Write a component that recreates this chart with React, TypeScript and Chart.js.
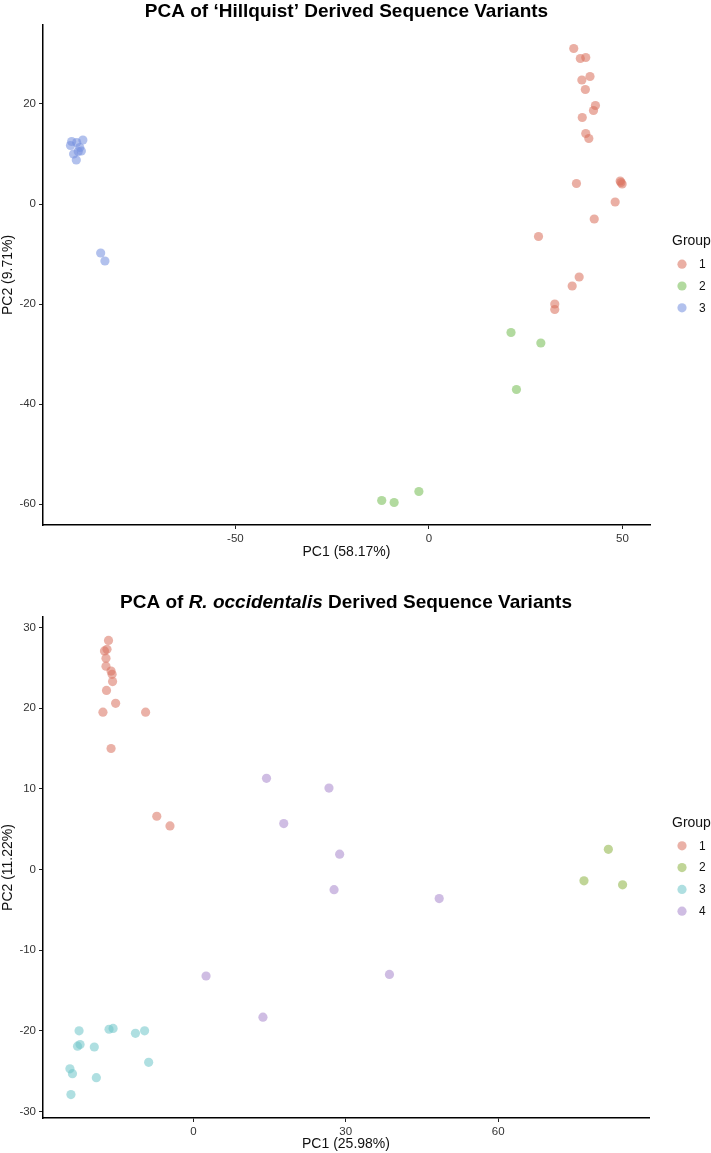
import React, { useEffect, useRef } from 'react';
import { Chart, registerables } from 'chart.js';

Chart.register(...registerables);

const FONT = "'Liberation Sans', Arial, Helvetica, sans-serif";

// ---------- Chart 1: 'Hillquist' ----------
const HQ_GROUPS = ['1', '2', '3'];
const HQ_G1_X = [37.4, 39.1, 40.5, 39.5, 41.6, 40.4, 43.0, 42.5, 39.6, 40.5, 41.3, 38.1, 49.4, 49.9, 49.6, 48.1, 42.7, 28.3, 38.8, 37.0, 32.5, 32.5];
const HQ_G1_Y = [31.1, 29.1, 29.3, 24.8, 25.5, 22.9, 19.7, 18.7, 17.3, 14.1, 13.1, 4.1, 4.6, 4.0, 4.3, 0.4, -3.0, -6.5, -14.6, -16.4, -20.0, -21.1];
const HQ_G2_X = [21.2, 28.9, 22.6, -12.2, -9.0, -2.6];
const HQ_G2_Y = [-25.7, -27.8, -37.1, -59.3, -59.7, -57.5];
const HQ_G3_X = [-92.3, -92.6, -91.0, -89.4, -90.2, -89.8, -90.6, -91.8, -91.1, -84.8, -83.7];
const HQ_G3_Y = [12.5, 11.7, 12.3, 12.8, 11.3, 10.6, 10.5, 10.0, 8.8, -9.8, -11.4];
const HQ_X_TICKS = [-50, 0, 50];
const HQ_Y_TICKS = [-60, -40, -20, 0, 20];
const HQ_COLORS = ['rgba(218,113,93,0.56)', 'rgba(117,189,83,0.56)', 'rgba(118,144,223,0.56)'];

// ---------- Chart 2: R. occidentalis ----------
const RO_GROUPS = ['1', '2', '3', '4'];
const RO_G1_X = [-16.7, -17.0, -17.5, -17.2, -17.2, -16.2, -16.0, -15.9, -17.1, -15.3, -17.8, -9.4, -16.2, -7.2, -4.6];
const RO_G1_Y = [28.4, 27.3, 27.1, 26.2, 25.2, 24.6, 24.2, 23.3, 22.2, 20.6, 19.5, 19.5, 15.0, 6.6, 5.4];
const RO_G2_X = [81.7, 76.9, 84.5];
const RO_G2_Y = [2.5, -1.4, -1.9];
const RO_G3_X = [-22.5, -22.8, -22.3, -19.5, -16.6, -15.8, -11.4, -9.6, -8.8, -19.1, -24.3, -23.8, -24.1];
const RO_G3_Y = [-20.0, -21.9, -21.7, -22.0, -19.8, -19.7, -20.3, -20.0, -23.9, -25.8, -24.7, -25.3, -27.9];
const RO_G4_X = [14.4, 26.7, 17.8, 28.8, 27.7, 48.4, 38.6, 2.5, 13.7];
const RO_G4_Y = [11.3, 10.1, 5.7, 1.9, -2.5, -3.6, -13.0, -13.2, -18.3];
const RO_X_TICKS = [0, 30, 60];
const RO_Y_TICKS = [-30, -20, -10, 0, 10, 20, 30];
const RO_COLORS = ['rgba(218,116,98,0.56)', 'rgba(146,183,75,0.58)', 'rgba(113,198,201,0.56)', 'rgba(172,141,207,0.58)'];

type TitlePart = { text: string; italic?: boolean };

interface Spec {
  groups: string[];
  xs: number[][];
  ys: number[][];
  colors: string[];
  xMin: number; xMax: number; yMin: number; yMax: number;
  xTicks: number[]; yTicks: number[];
  xTitle: string; yTitle: string;
  titleParts: TitlePart[];
  titleBaseline: number;
  top: number; right: number; xAxisHeight: number; xTitlePad: number;
  width: number; height: number;
}

function overlayPlugin(spec: Spec) {
  return {
    id: 'overlay',
    afterDraw(chart: any) {
      const ctx = chart.ctx as CanvasRenderingContext2D;
      const area = chart.chartArea;
      ctx.save();
      // Title
      const fontFor = (p: TitlePart) => `${p.italic ? 'italic ' : ''}bold 19px ${FONT}`;
      let total = 0;
      const widths = spec.titleParts.map((p) => {
        ctx.font = fontFor(p);
        const w = ctx.measureText(p.text).width;
        total += w;
        return w;
      });
      let x = (area.left + area.right) / 2 - total / 2;
      ctx.fillStyle = '#000';
      ctx.textBaseline = 'alphabetic';
      ctx.textAlign = 'left';
      spec.titleParts.forEach((p, i) => {
        ctx.font = fontFor(p);
        ctx.fillText(p.text, x, spec.titleBaseline);
        x += widths[i];
      });
      // Legend
      const n = spec.groups.length;
      const center = (area.top + area.bottom) / 2;
      const step = 21.8;
      const firstY = center - ((n - 1) * step) / 2 + 11;
      ctx.font = `14px ${FONT}`;
      ctx.fillStyle = '#111';
      ctx.fillText('Group', 672, firstY - 19);
      chart.data.datasets.forEach((ds: any, i: number) => {
        const y = firstY + i * step;
        ctx.beginPath();
        ctx.arc(682, y, 4.6, 0, Math.PI * 2);
        ctx.fillStyle = ds.backgroundColor;
        ctx.fill();
        ctx.fillStyle = '#111';
        ctx.font = `12px ${FONT}`;
        ctx.textBaseline = 'middle';
        ctx.fillText(ds.label, 699, y + 0.5);
        ctx.textBaseline = 'alphabetic';
      });
      ctx.restore();
    },
  };
}

function buildConfig(spec: Spec): any {
  const tickFont = { family: FONT, size: 11.5 };
  const titleFont = { family: FONT, size: 14 };
  return {
    type: 'scatter',
    data: {
      datasets: spec.groups.map((g, i) => ({
        label: g,
        data: spec.xs[i].map((xv, j) => ({ x: xv, y: spec.ys[i][j] })),
        backgroundColor: spec.colors[i],
        borderWidth: 0,
        pointRadius: 4.6,
        pointHoverRadius: 4.6,
        pointBorderWidth: 0,
      })),
    },
    options: {
      responsive: false,
      animation: false,
      events: [],
      layout: { padding: { top: spec.top, right: spec.width - spec.right, left: 0, bottom: 0 } },
      plugins: { legend: { display: false }, tooltip: { enabled: false }, title: { display: false } },
      scales: {
        x: {
          type: 'linear',
          position: 'bottom',
          min: spec.xMin,
          max: spec.xMax,
          afterBuildTicks: (s: any) => { s.ticks = spec.xTicks.map((v) => ({ value: v })); },
          afterFit: (s: any) => { s.height = spec.xAxisHeight; },
          grid: { drawOnChartArea: false, drawTicks: true, tickLength: 4, tickColor: '#222', lineWidth: 1 },
          border: { display: true, color: '#000', width: 1.5 },
          ticks: { font: tickFont, color: '#333', padding: 3, maxRotation: 0, autoSkip: false, callback: (v: any) => String(v) },
          title: { display: true, text: spec.xTitle, font: titleFont, color: '#111', padding: { top: 0, bottom: spec.xTitlePad } },
        },
        y: {
          type: 'linear',
          position: 'left',
          min: spec.yMin,
          max: spec.yMax,
          afterBuildTicks: (s: any) => { s.ticks = spec.yTicks.map((v) => ({ value: v })); },
          afterFit: (s: any) => { s.width = 43; },
          grid: { drawOnChartArea: false, drawTicks: true, tickLength: 4, tickColor: '#222', lineWidth: 1 },
          border: { display: true, color: '#000', width: 1.5 },
          ticks: { font: tickFont, color: '#333', padding: 3, autoSkip: false, callback: (v: any) => String(v) },
          title: { display: true, text: spec.yTitle, font: titleFont, color: '#111', padding: { top: 0, bottom: 0 } },
        },
      },
    },
    plugins: [overlayPlugin(spec)],
  };
}

const SPEC1: Spec = {
  groups: HQ_GROUPS,
  xs: [HQ_G1_X, HQ_G2_X, HQ_G3_X],
  ys: [HQ_G1_Y, HQ_G2_Y, HQ_G3_Y],
  colors: HQ_COLORS,
  xMin: -99.7, xMax: 57.1, yMin: -64.2, yMax: 35.8,
  xTicks: HQ_X_TICKS, yTicks: HQ_Y_TICKS,
  xTitle: 'PC1 (58.17%)', yTitle: 'PC2 (9.71%)',
  titleParts: [{ text: 'PCA of \u2018Hillquist\u2019 Derived Sequence Variants' }],
  titleBaseline: 17,
  top: 25, right: 650, xAxisHeight: 53, xTitlePad: 17.6,
  width: 711, height: 578,
};

const SPEC2: Spec = {
  groups: RO_GROUPS,
  xs: [RO_G1_X, RO_G2_X, RO_G3_X, RO_G4_X],
  ys: [RO_G1_Y, RO_G2_Y, RO_G3_Y, RO_G4_Y],
  colors: RO_COLORS,
  xMin: -29.6, xMax: 89.7, yMin: -30.8, yMax: 31.3,
  xTicks: RO_X_TICKS, yTicks: RO_Y_TICKS,
  xTitle: 'PC1 (25.98%)', yTitle: 'PC2 (11.22%)',
  titleParts: [
    { text: 'PCA of ' },
    { text: 'R. occidentalis', italic: true },
    { text: ' Derived Sequence Variants' },
  ],
  titleBaseline: 29.5,
  top: 39, right: 649, xAxisHeight: 35, xTitlePad: 0,
  width: 711, height: 575,
};

function ScatterPanel({ spec, top }: { spec: Spec; top: number }) {
  const ref = useRef<HTMLCanvasElement | null>(null);
  useEffect(() => {
    if (!ref.current) return;
    const chart = new Chart(ref.current, buildConfig(spec));
    return () => chart.destroy();
  }, [spec]);
  return (
    <canvas
      ref={ref}
      width={spec.width}
      height={spec.height}
      style={{ position: 'absolute', left: 0, top, width: spec.width, height: spec.height, display: 'block' }}
    />
  );
}

export default function App() {
  return (
    <div style={{ position: 'absolute', left: 0, top: 0, width: 711, height: 1153, background: '#fff' }}>
      <ScatterPanel spec={SPEC1} top={0} />
      <ScatterPanel spec={SPEC2} top={578} />
    </div>
  );
}
